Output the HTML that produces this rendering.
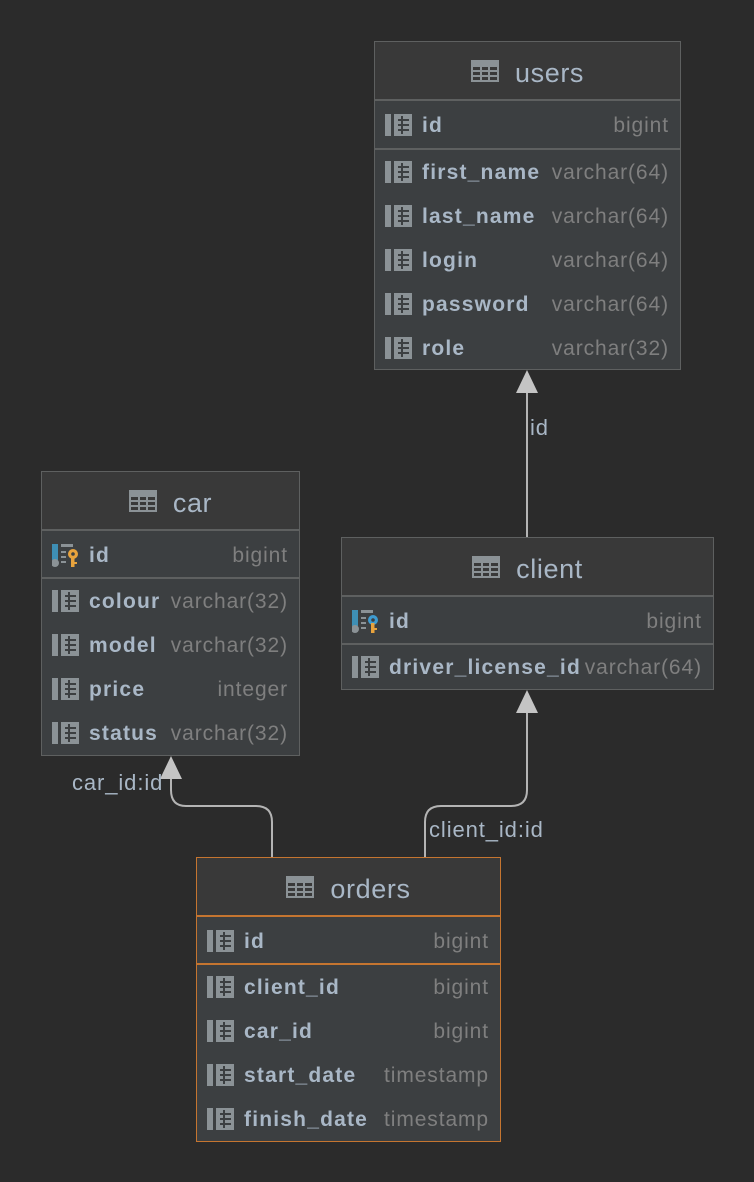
<!DOCTYPE html>
<html><head><meta charset="utf-8"><style>
body{margin:0;width:754px;height:1182px;background:#2b2b2b;position:relative;overflow:hidden;font-family:"Liberation Sans",sans-serif}
.t{position:absolute;background:#3c3f41;border:1px solid #5e6060;box-sizing:border-box}
.t.o{border-color:#c57530}
.h{position:absolute;left:0;right:0;top:0;height:59px;padding-top:5px;box-sizing:border-box;background:#393939;border-bottom:2px solid #5e6060;color:#a9b7c6;font-size:27px;letter-spacing:0.6px;display:flex;align-items:center;justify-content:center}
.o .h{border-bottom-color:#c57530}
.h svg{margin-right:16px;margin-top:-4px}
.r{position:absolute;left:0;right:0;height:44px;display:flex;align-items:center}
.r svg{position:absolute;left:10px;top:10px}
.n{position:absolute;left:47px;font-weight:bold;font-size:21px;letter-spacing:1.2px;color:#a9b7c6;top:10px}
.ty{position:absolute;right:11px;font-size:21px;letter-spacing:0.9px;color:#7f7f7f;top:10px}
.sep{position:absolute;left:0;right:0;height:2px;background:#5e6060}
.o .sep{background:#c57530}
.lbl{position:absolute;color:#a9b7c6;font-size:22px;letter-spacing:0.9px}
</style></head><body>
<svg width="0" height="0" style="position:absolute">
<defs>
<g id="col"><rect x="0" y="0" width="6" height="22" fill="#8b9296"/><rect x="9" y="0" width="18" height="22" fill="#8b9296"/><g fill="#3c3f41"><rect x="13" y="5" width="3" height="2"/><rect x="18" y="5" width="6" height="2"/><rect x="13" y="10" width="3" height="2"/><rect x="18" y="10" width="6" height="2"/><rect x="13" y="15" width="3" height="2"/><rect x="18" y="15" width="6" height="2"/><rect x="16" y="2" width="2" height="18"/></g></g>
<g id="pk"><rect x="0" y="0" width="6" height="16" fill="#3e8fb5"/><circle cx="3" cy="19" r="4" fill="#8b9296"/><rect x="9" y="0" width="12" height="3" fill="#8b9296"/><rect x="9" y="7" width="5" height="2" fill="#8b9296"/><rect x="9" y="12" width="5" height="2" fill="#8b9296"/><rect x="9" y="17" width="5" height="2" fill="#8b9296"/><circle cx="21" cy="10" r="5" fill="#e8a33d"/><circle cx="21" cy="10" r="1.8" fill="#3c3f41"/><rect x="19" y="13" width="3.5" height="10" fill="#e8a33d"/><rect x="22" y="18" width="3" height="2" fill="#e8a33d"/></g>
<g id="pkb"><rect x="0" y="0" width="6" height="16" fill="#3e8fb5"/><circle cx="3" cy="19" r="4" fill="#8b9296"/><rect x="9" y="0" width="12" height="3" fill="#8b9296"/><rect x="9" y="7" width="5" height="2" fill="#8b9296"/><rect x="9" y="12" width="5" height="2" fill="#8b9296"/><rect x="9" y="17" width="5" height="2" fill="#8b9296"/><circle cx="21" cy="10" r="5" fill="#3e9bd0"/><circle cx="21" cy="10" r="1.8" fill="#3c3f41"/><rect x="19" y="13" width="3.5" height="10" fill="#e8a33d"/><rect x="22" y="18" width="3" height="2" fill="#e8a33d"/></g>
<g id="tb"><rect x="0" y="0" width="28" height="22" fill="#8b9296"/><g fill="#393939"><rect x="2" y="7" width="7" height="3"/><rect x="11" y="7" width="6" height="3"/><rect x="19" y="7" width="7" height="3"/><rect x="2" y="12" width="7" height="3"/><rect x="11" y="12" width="6" height="3"/><rect x="19" y="12" width="7" height="3"/><rect x="2" y="17" width="7" height="3"/><rect x="11" y="17" width="6" height="3"/><rect x="19" y="17" width="7" height="3"/></g></g>
</defs></svg>

<svg width="754" height="1182" style="position:absolute;left:0;top:0">
<g fill="none" stroke="#b4b4b4" stroke-width="2">
<line x1="527" y1="537" x2="527" y2="390"/>
<path d="M272 857 V822 Q272 806 256 806 H186 Q171 806 171 790 V778"/>
<path d="M425 857 V822 Q425 806 441 806 H511 Q527 806 527 790 V710"/>
</g>
<g fill="#c4c4c4">
<polygon points="527,370 516,393 538,393"/>
<polygon points="171,756 160,779 182,779"/>
<polygon points="527,690 516,713 538,713"/>
</g>
</svg>
<div class="lbl" style="left:530px;top:415px">id</div>
<div class="lbl" style="left:72px;top:770px">car_id:id</div>
<div class="lbl" style="left:429px;top:817px">client_id:id</div>

<div class="t" style="left:374px;top:41px;width:307px;height:329px">
<div class="h"><svg width="28" height="22"><use href="#tb"/></svg>users</div>
<div class="r" style="top:62px"><svg width="28" height="22"><use href="#col"/></svg><span class="n">id</span><span class="ty">bigint</span></div>
<div class="sep" style="top:106px"></div>
<div class="r" style="top:109px"><svg width="28" height="22"><use href="#col"/></svg><span class="n">first_name</span><span class="ty">varchar(64)</span></div>
<div class="r" style="top:153px"><svg width="28" height="22"><use href="#col"/></svg><span class="n">last_name</span><span class="ty">varchar(64)</span></div>
<div class="r" style="top:197px"><svg width="28" height="22"><use href="#col"/></svg><span class="n">login</span><span class="ty">varchar(64)</span></div>
<div class="r" style="top:241px"><svg width="28" height="22"><use href="#col"/></svg><span class="n">password</span><span class="ty">varchar(64)</span></div>
<div class="r" style="top:285px"><svg width="28" height="22"><use href="#col"/></svg><span class="n">role</span><span class="ty">varchar(32)</span></div>
</div>

<div class="t" style="left:41px;top:471px;width:259px;height:285px">
<div class="h"><svg width="28" height="22"><use href="#tb"/></svg>car</div>
<div class="r" style="top:62px"><svg width="28" height="24"><use href="#pk"/></svg><span class="n">id</span><span class="ty">bigint</span></div>
<div class="sep" style="top:105px"></div>
<div class="r" style="top:108px"><svg width="28" height="22"><use href="#col"/></svg><span class="n">colour</span><span class="ty">varchar(32)</span></div>
<div class="r" style="top:152px"><svg width="28" height="22"><use href="#col"/></svg><span class="n">model</span><span class="ty">varchar(32)</span></div>
<div class="r" style="top:196px"><svg width="28" height="22"><use href="#col"/></svg><span class="n">price</span><span class="ty">integer</span></div>
<div class="r" style="top:240px"><svg width="28" height="22"><use href="#col"/></svg><span class="n">status</span><span class="ty">varchar(32)</span></div>
</div>

<div class="t" style="left:341px;top:537px;width:373px;height:153px">
<div class="h"><svg width="28" height="22"><use href="#tb"/></svg>client</div>
<div class="r" style="top:62px"><svg width="28" height="24"><use href="#pkb"/></svg><span class="n">id</span><span class="ty">bigint</span></div>
<div class="sep" style="top:105px"></div>
<div class="r" style="top:108px"><svg width="28" height="22"><use href="#col"/></svg><span class="n">driver_license_id</span><span class="ty">varchar(64)</span></div>
</div>

<div class="t o" style="left:196px;top:857px;width:305px;height:285px">
<div class="h"><svg width="28" height="22"><use href="#tb"/></svg>orders</div>
<div class="r" style="top:62px"><svg width="28" height="22"><use href="#col"/></svg><span class="n">id</span><span class="ty">bigint</span></div>
<div class="sep" style="top:105px"></div>
<div class="r" style="top:108px"><svg width="28" height="22"><use href="#col"/></svg><span class="n">client_id</span><span class="ty">bigint</span></div>
<div class="r" style="top:152px"><svg width="28" height="22"><use href="#col"/></svg><span class="n">car_id</span><span class="ty">bigint</span></div>
<div class="r" style="top:196px"><svg width="28" height="22"><use href="#col"/></svg><span class="n">start_date</span><span class="ty">timestamp</span></div>
<div class="r" style="top:240px"><svg width="28" height="22"><use href="#col"/></svg><span class="n">finish_date</span><span class="ty">timestamp</span></div>
</div>
</body></html>
